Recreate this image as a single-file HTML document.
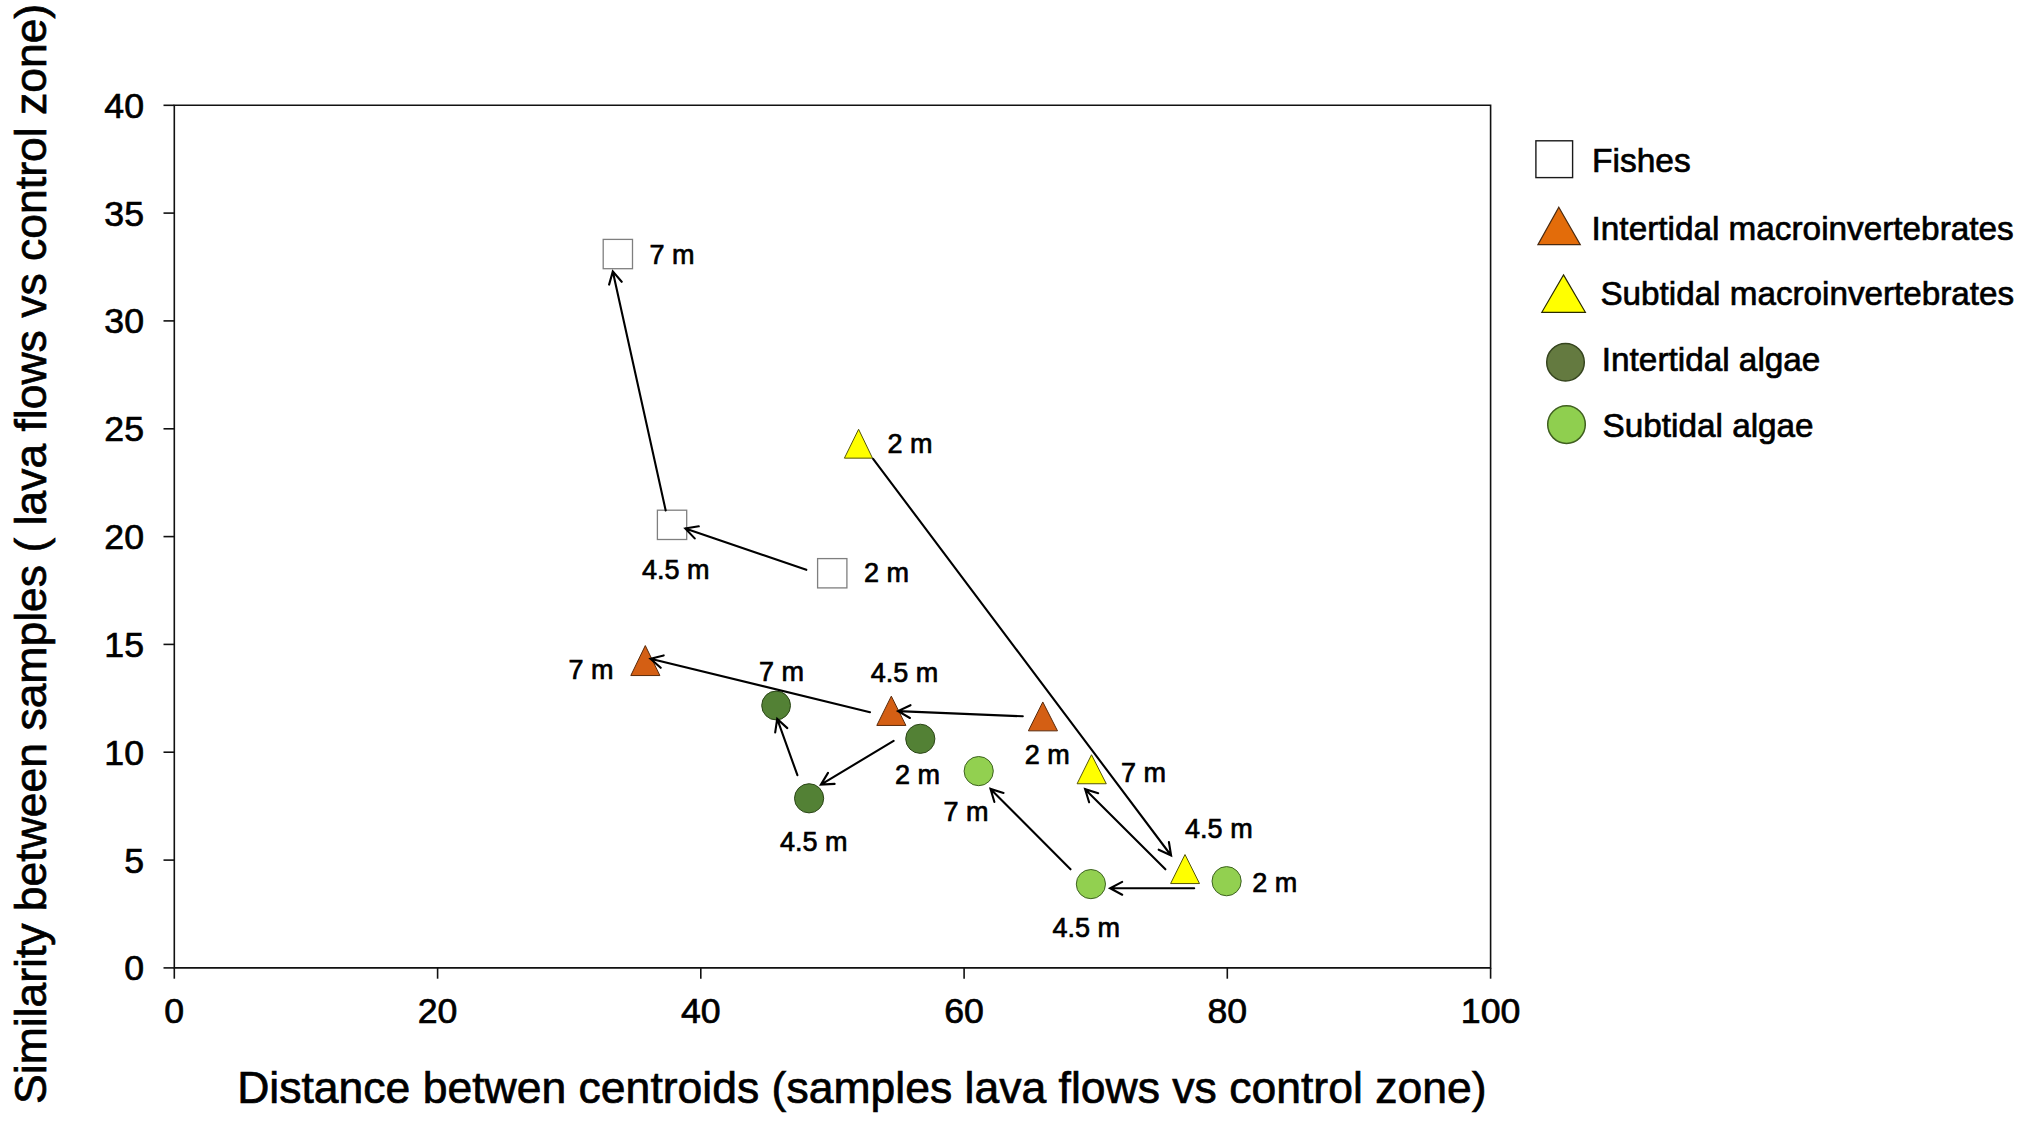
<!DOCTYPE html>
<html><head><meta charset="utf-8"><title>Figure</title>
<style>
html,body{margin:0;padding:0;background:#fff;}
svg{display:block;font-family:"Liberation Sans",sans-serif;}
text{fill:#000;stroke:#000;stroke-width:0.7px;}
.ax{stroke:#111;stroke-width:1.6;fill:none;}
.ar{stroke:#000;stroke-width:2.1;fill:none;stroke-linecap:round;stroke-linejoin:miter;stroke-miterlimit:10;}
.tk{font-size:35.7px;}
.lb{font-size:27px;}
.lg{font-size:33.3px;}
</style></head><body>
<svg width="2020" height="1124" viewBox="0 0 2020 1124">
<rect width="2020" height="1124" fill="#fff"/>

<path class="ax" d="M174.3,105.3 H1490.6 V967.9 H174.3 Z"/>
<path class="ax" d="M163.5,967.9 H174.3"/>
<text class="tk" x="144" y="980.4" text-anchor="end">0</text>
<path class="ax" d="M163.5,860.1 H174.3"/>
<text class="tk" x="144" y="872.6" text-anchor="end">5</text>
<path class="ax" d="M163.5,752.2 H174.3"/>
<text class="tk" x="144" y="764.8" text-anchor="end">10</text>
<path class="ax" d="M163.5,644.4 H174.3"/>
<text class="tk" x="144" y="656.9" text-anchor="end">15</text>
<path class="ax" d="M163.5,536.6 H174.3"/>
<text class="tk" x="144" y="549.1" text-anchor="end">20</text>
<path class="ax" d="M163.5,428.8 H174.3"/>
<text class="tk" x="144" y="441.3" text-anchor="end">25</text>
<path class="ax" d="M163.5,320.9 H174.3"/>
<text class="tk" x="144" y="333.4" text-anchor="end">30</text>
<path class="ax" d="M163.5,213.1 H174.3"/>
<text class="tk" x="144" y="225.6" text-anchor="end">35</text>
<path class="ax" d="M163.5,105.3 H174.3"/>
<text class="tk" x="144" y="117.8" text-anchor="end">40</text>
<path class="ax" d="M174.3,967.9 V978.7"/>
<text class="tk" x="174.3" y="1022.5" text-anchor="middle">0</text>
<path class="ax" d="M437.6,967.9 V978.7"/>
<text class="tk" x="437.6" y="1022.5" text-anchor="middle">20</text>
<path class="ax" d="M700.8,967.9 V978.7"/>
<text class="tk" x="700.8" y="1022.5" text-anchor="middle">40</text>
<path class="ax" d="M964.1,967.9 V978.7"/>
<text class="tk" x="964.1" y="1022.5" text-anchor="middle">60</text>
<path class="ax" d="M1227.3,967.9 V978.7"/>
<text class="tk" x="1227.3" y="1022.5" text-anchor="middle">80</text>
<path class="ax" d="M1490.6,967.9 V978.7"/>
<text class="tk" x="1490.6" y="1022.5" text-anchor="middle">100</text>
<text x="237.2" y="1102.8" font-size="44.5" textLength="1249.3" lengthAdjust="spacingAndGlyphs">Distance betwen centroids (samples lava flows vs control zone)</text>
<text transform="translate(46.2,1103.9) rotate(-90)" font-size="44.5" textLength="1100.1" lengthAdjust="spacingAndGlyphs">Similarity between samples ( lava flows vs control zone)</text>
<rect x="603.2" y="239.4" width="29.3" height="29.3" fill="#fff" stroke="#7f7f7f" stroke-width="1.3"/>
<rect x="657.4" y="510.2" width="29.3" height="29.3" fill="#fff" stroke="#7f7f7f" stroke-width="1.3"/>
<rect x="817.6" y="558.6" width="29.3" height="29.3" fill="#fff" stroke="#7f7f7f" stroke-width="1.3"/>
<path d="M645.30,645.57 L659.90,675.55 L630.80,675.55 Z" fill="#D45F14" stroke="#5a2a0a" stroke-width="1" stroke-linejoin="miter"/>
<path d="M891.30,696.16 L905.90,725.45 L876.80,725.45 Z" fill="#D45F14" stroke="#5a2a0a" stroke-width="1" stroke-linejoin="miter"/>
<path d="M1042.80,701.96 L1057.49,730.85 L1028.40,730.85 Z" fill="#D45F14" stroke="#5a2a0a" stroke-width="1" stroke-linejoin="miter"/>
<path d="M858.60,429.27 L872.50,458.15 L844.40,458.15 Z" fill="#FFFF00" stroke="#55550a" stroke-width="1" stroke-linejoin="miter"/>
<path d="M1091.50,754.76 L1106.29,783.75 L1077.10,783.75 Z" fill="#FFFF00" stroke="#55550a" stroke-width="1" stroke-linejoin="miter"/>
<path d="M1185.00,854.56 L1199.50,883.55 L1170.60,883.55 Z" fill="#FFFF00" stroke="#55550a" stroke-width="1" stroke-linejoin="miter"/>
<circle cx="776.1" cy="705.5" r="14.4" fill="#538135" stroke="#2a4516" stroke-width="1"/>
<circle cx="920.3" cy="738.8" r="14.6" fill="#538135" stroke="#2a4516" stroke-width="1"/>
<circle cx="809.1" cy="798.3" r="14.6" fill="#538135" stroke="#2a4516" stroke-width="1"/>
<circle cx="978.7" cy="771.1" r="14.6" fill="#92D050" stroke="#3d6220" stroke-width="1"/>
<circle cx="1090.9" cy="884.1" r="14.6" fill="#92D050" stroke="#3d6220" stroke-width="1"/>
<circle cx="1226.6" cy="881.2" r="14.6" fill="#92D050" stroke="#3d6220" stroke-width="1"/>
<path class="ar" d="M665.7,510.5 L612.8,271.4 M609.1,284.6 L612.8,271.4 L621.7,281.8"/>
<path class="ar" d="M806.3,569.8 L685.3,528.4 M694.7,538.4 L685.3,528.4 L698.8,526.3"/>
<path class="ar" d="M873.1,458.8 L1171.1,855.5 M1168.9,842.0 L1171.1,855.5 L1158.7,849.7"/>
<path class="ar" d="M870.0,712.3 L650.5,658.7 M660.7,667.8 L650.5,658.7 L663.7,655.4"/>
<path class="ar" d="M893.6,740.9 L820.9,784.6 M834.6,783.9 L820.9,784.6 L828.0,772.9"/>
<path class="ar" d="M797.4,775.2 L777.2,718.9 M775.2,732.4 L777.2,718.9 L787.3,728.1"/>
<path class="ar" d="M1022.8,716.3 L898.1,711.1 M909.9,718.0 L898.1,711.1 L910.5,705.2"/>
<path class="ar" d="M1165.4,869.3 L1085.1,789.2 M1089.1,802.3 L1085.1,789.2 L1098.2,793.2"/>
<path class="ar" d="M1070.5,869.3 L990.5,788.9 M994.4,802.0 L990.5,788.9 L1003.5,792.9"/>
<path class="ar" d="M1194.2,888.3 L1110.1,888.3 M1122.2,894.7 L1110.1,888.3 L1122.2,881.9"/>
<text class="lb" x="649.5" y="263.6">7 m</text>
<text class="lb" x="887.4" y="453.1">2 m</text>
<text class="lb" x="641.9" y="579.1">4.5 m</text>
<text class="lb" x="863.9" y="582.3">2 m</text>
<text class="lb" x="568.4" y="679.2">7 m</text>
<text class="lb" x="758.9" y="681.3">7 m</text>
<text class="lb" x="870.7" y="681.9">4.5 m</text>
<text class="lb" x="895.1" y="783.8">2 m</text>
<text class="lb" x="780.0" y="850.7">4.5 m</text>
<text class="lb" x="1024.7" y="764.4">2 m</text>
<text class="lb" x="1120.9" y="781.7">7 m</text>
<text class="lb" x="943.5" y="820.8">7 m</text>
<text class="lb" x="1185.1" y="838.3">4.5 m</text>
<text class="lb" x="1052.5" y="937.3">4.5 m</text>
<text class="lb" x="1252.2" y="891.5">2 m</text>
<rect x="1535.9" y="140.8" width="36.7" height="36.8" fill="#fff" stroke="#1a1a1a" stroke-width="1.4"/>
<path d="M1558.80,207.21 L1580.28,244.70 L1537.91,244.70 Z" fill="#E36C0A" stroke="#4a2a10" stroke-width="1.2" stroke-linejoin="miter"/>
<path d="M1563.50,274.90 L1585.38,312.30 L1541.82,312.30 Z" fill="#FFFF00" stroke="#2a2a00" stroke-width="1.2" stroke-linejoin="miter"/>
<circle cx="1565.5" cy="362.2" r="18.8" fill="#647A40" stroke="#36451f" stroke-width="1.5"/>
<circle cx="1566.5" cy="424.6" r="18.8" fill="#8FCF4F" stroke="#3f5f1f" stroke-width="1.5"/>
<text class="lg" x="1592.0" y="171.9" textLength="98.7" lengthAdjust="spacingAndGlyphs">Fishes</text>
<text class="lg" x="1591.6" y="240.3" textLength="422.1" lengthAdjust="spacingAndGlyphs">Intertidal macroinvertebrates</text>
<text class="lg" x="1600.4" y="304.8" textLength="413.8" lengthAdjust="spacingAndGlyphs">Subtidal macroinvertebrates</text>
<text class="lg" x="1601.8" y="370.5" textLength="218.6" lengthAdjust="spacingAndGlyphs">Intertidal algae</text>
<text class="lg" x="1602.6" y="437.4" textLength="211.0" lengthAdjust="spacingAndGlyphs">Subtidal algae</text>
</svg></body></html>
